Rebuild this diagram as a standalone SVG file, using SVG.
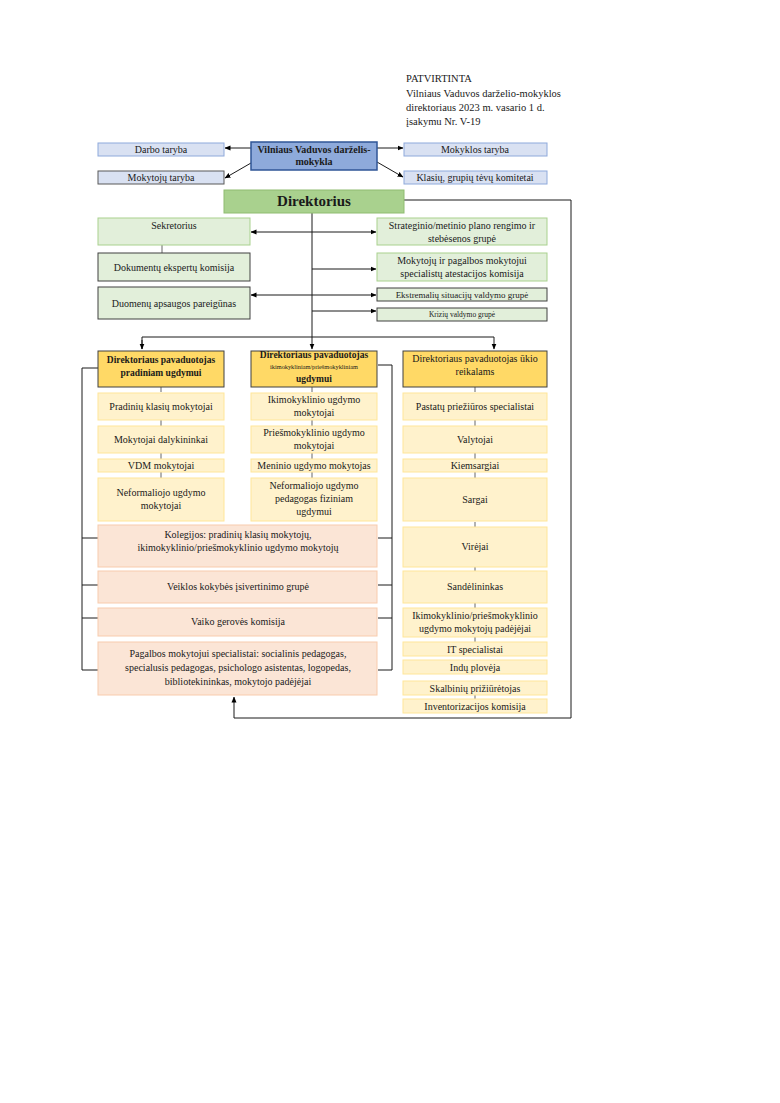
<svg xmlns="http://www.w3.org/2000/svg" width="780" height="1103" viewBox="0 0 780 1103">
<defs>
<marker id="ah" markerWidth="6" markerHeight="6" refX="5.5" refY="3" orient="auto" markerUnits="userSpaceOnUse"><path d="M0,0.5 L6,3 L0,5.5 z" fill="#000"/></marker>
<marker id="as" markerWidth="6" markerHeight="6" refX="0.5" refY="3" orient="auto" markerUnits="userSpaceOnUse"><path d="M6,0.5 L0,3 L6,5.5 z" fill="#000"/></marker>
<style>
text{font-family:"Liberation Serif","Times New Roman",serif;fill:#1a1a1a;font-size:10px;text-anchor:middle}
.hdr{text-anchor:start;font-size:10.5px}
.b{font-weight:bold}
.blue{fill:#d9e1f2;stroke:#8ea9db;stroke-width:1}
.blued{fill:#d9e1f2;stroke:#595959;stroke-width:1}
.main{fill:#8eaadb;stroke:#2f5597;stroke-width:1.5}
.dir{fill:#a9d18e;stroke:#8fbc70;stroke-width:1}
.gr{fill:#e2efda;stroke:#a9d18e;stroke-width:1}
.grd{fill:#e2efda;stroke:#404040;stroke-width:1}
.dep{fill:#ffd966;stroke:#404040;stroke-width:1}
.yl{fill:#fff2cc;stroke:#ffe699;stroke-width:1}
.pk{fill:#fbe5d6;stroke:#f8cbad;stroke-width:1}
.ln{fill:none;stroke:#1a1a1a;stroke-width:1}
.lnt{fill:none;stroke:#404040;stroke-width:0.8}
</style>
</defs>
<rect width="780" height="1103" fill="#fff"/>
<g id="header">
<text class="hdr" x="406" y="82">PATVIRTINTA</text>
<text class="hdr" x="406" y="97">Vilniaus Vaduvos darželio-mokyklos</text>
<text class="hdr" x="406" y="111">direktoriaus 2023 m. vasario 1 d.</text>
<text class="hdr" x="406" y="125">įsakymu Nr. V-19</text>
</g>
<g id="connectors">
<line class="ln" x1="251" y1="148" x2="225" y2="148" marker-end="url(#ah)"/>
<line class="ln" x1="251" y1="163" x2="225" y2="178" marker-end="url(#ah)"/>
<line class="ln" x1="377" y1="148" x2="403" y2="148" marker-end="url(#ah)"/>
<line class="ln" x1="377" y1="162" x2="403" y2="177" marker-end="url(#ah)"/>
<polyline class="ln" points="404,200 571,200 571,718 234,718 234,697" marker-end="url(#ah)"/>
<line class="ln" x1="312" y1="213" x2="312" y2="337"/>
<line class="ln" x1="251" y1="232" x2="376" y2="232" marker-start="url(#as)" marker-end="url(#ah)"/>
<line class="ln" x1="312" y1="269" x2="376" y2="269" marker-end="url(#ah)"/>
<line class="ln" x1="251" y1="295" x2="376" y2="295" marker-start="url(#as)" marker-end="url(#ah)"/>
<line class="ln" x1="312" y1="311" x2="376" y2="311" marker-end="url(#ah)"/>
<polyline class="ln" points="142,349 142,337 494,337 494,349" marker-end="url(#ah)"/>
<line class="ln" x1="142" y1="340" x2="142" y2="349" marker-end="url(#ah)"/>
<line class="ln" x1="312" y1="337" x2="312" y2="349" marker-end="url(#ah)"/>
<line class="lnt" x1="162" y1="245" x2="162" y2="253"/>
<polyline class="ln" points="98,368 82,368 82,670 98,670"/>
<line class="ln" x1="82" y1="538" x2="98" y2="538"/>
<line class="ln" x1="82" y1="585" x2="98" y2="585"/>
<line class="ln" x1="82" y1="618" x2="98" y2="618"/>
<polyline class="ln" points="378,365 392,365 392,670 378,670"/>
<line class="ln" x1="392" y1="538" x2="378" y2="538"/>
<line class="ln" x1="392" y1="585" x2="378" y2="585"/>
<line class="ln" x1="392" y1="618" x2="378" y2="618"/>
<g class="lnt">
<line x1="161" y1="387" x2="161" y2="392"/>
<line x1="161" y1="420" x2="161" y2="426"/>
<line x1="161" y1="453" x2="161" y2="459"/>
<line x1="161" y1="472" x2="161" y2="478"/>
<line x1="312" y1="387" x2="312" y2="392"/>
<line x1="312" y1="420" x2="312" y2="426"/>
<line x1="312" y1="453" x2="312" y2="459"/>
<line x1="312" y1="472" x2="312" y2="478"/>
<line x1="475" y1="387" x2="475" y2="392"/>
<line x1="475" y1="420" x2="475" y2="426"/>
<line x1="475" y1="453" x2="475" y2="459"/>
<line x1="475" y1="472" x2="475" y2="478"/>
<line x1="475" y1="522" x2="475" y2="527"/>
<line x1="475" y1="567" x2="475" y2="571"/>
<line x1="475" y1="603" x2="475" y2="608"/>
<line x1="475" y1="637" x2="475" y2="642"/>
<line x1="475" y1="690" x2="475" y2="699"/>
</g>
</g>
<g id="n-main"><rect class="main" x="251" y="142" width="126" height="28"/><text class="b" x="314" y="153">Vilniaus Vaduvos darželis-</text><text class="b" x="314" y="165">mokykla</text></g>
<g id="n-darbo"><rect class="blue" x="98" y="143" width="126" height="13"/><text x="161" y="153">Darbo taryba</text></g>
<g id="n-mokytoju-taryba"><rect class="blued" x="98" y="171" width="126" height="13"/><text x="161" y="181">Mokytojų taryba</text></g>
<g id="n-mokyklos"><rect class="blue" x="404" y="143" width="143" height="13"/><text x="475" y="153">Mokyklos taryba</text></g>
<g id="n-klasiu"><rect class="blue" x="404" y="171" width="143" height="13"/><text x="475" y="181">Klasių, grupių tėvų komitetai</text></g>
<g id="n-direktorius"><rect class="dir" x="224" y="190" width="180" height="23"/><text class="b" x="314" y="206" style="font-size:15px">Direktorius</text></g>
<g id="n-sekretorius"><rect class="gr" x="98" y="218" width="152" height="27"/><text x="174" y="229">Sekretorius</text></g>
<g id="n-dokumentu"><rect class="grd" x="98" y="253" width="152" height="28"/><text x="174" y="271">Dokumentų ekspertų komisija</text></g>
<g id="n-duomenu"><rect class="grd" x="98" y="287" width="152" height="32"/><text x="174" y="307">Duomenų apsaugos pareigūnas</text></g>
<g id="n-strateginio"><rect class="gr" x="377" y="218" width="170" height="27"/><text x="462" y="229">Strateginio/metinio plano rengimo ir</text><text x="462" y="242">stebėsenos grupė</text></g>
<g id="n-atestacijos"><rect class="gr" x="377" y="253" width="170" height="28"/><text x="462" y="264">Mokytojų ir pagalbos mokytojui</text><text x="462" y="277">specialistų atestacijos komisija</text></g>
<g id="n-ekstremaliu"><rect class="grd" x="377" y="288" width="170" height="13"/><text x="462" y="298" style="font-size:9px">Ekstremalių situacijų valdymo grupė</text></g>
<g id="n-kriziu"><rect class="grd" x="377" y="308" width="170" height="13"/><text x="462" y="317" style="font-size:7.5px">Krizių valdymo grupė</text></g>
<g id="n-dep-prad"><rect class="dep" x="98" y="351" width="126" height="36"/><text class="b" x="161" y="363" style="font-size:9.5px">Direktoriaus pavaduotojas</text><text class="b" x="161" y="376" style="font-size:9.5px">pradiniam ugdymui</text></g>
<g id="n-dep-ikim"><rect class="dep" x="251" y="351" width="126" height="36"/><text class="b" x="314" y="358" style="font-size:9.5px">Direktoriaus pavaduotojas</text><text x="314" y="369" style="font-size:6.3px">ikimokykliniam/priešmokykliniam</text><text class="b" x="314" y="382" style="font-size:9.5px">ugdymui</text></g>
<g id="n-dep-ukio"><rect class="dep" x="403" y="351" width="144" height="36"/><text x="475" y="362">Direktoriaus pavaduotojas ūkio</text><text x="475" y="375">reikalams</text></g>
<g id="n-pradiniu"><rect class="yl" x="98" y="393" width="126" height="27"/><text x="161" y="410">Pradinių klasių mokytojai</text></g>
<g id="n-dalykininkai"><rect class="yl" x="98" y="426" width="126" height="27"/><text x="161" y="443">Mokytojai dalykininkai</text></g>
<g id="n-vdm"><rect class="yl" x="98" y="459" width="126" height="13"/><text x="161" y="469">VDM mokytojai</text></g>
<g id="n-neform1"><rect class="yl" x="98" y="478" width="126" height="43"/><text x="161" y="496">Neformaliojo ugdymo</text><text x="161" y="509">mokytojai</text></g>
<g id="n-ikim"><rect class="yl" x="251" y="393" width="126" height="27"/><text x="314" y="403">Ikimokyklinio ugdymo</text><text x="314" y="416">mokytojai</text></g>
<g id="n-priesm"><rect class="yl" x="251" y="426" width="126" height="27"/><text x="314" y="436">Priešmokyklinio ugdymo</text><text x="314" y="449">mokytojai</text></g>
<g id="n-meninio"><rect class="yl" x="251" y="459" width="126" height="13"/><text x="314" y="469">Meninio ugdymo mokytojas</text></g>
<g id="n-neform2"><rect class="yl" x="251" y="478" width="126" height="43"/><text x="314" y="489">Neformaliojo ugdymo</text><text x="314" y="502">pedagogas fiziniam</text><text x="314" y="515">ugdymui</text></g>
<g id="n-pastatu"><rect class="yl" x="403" y="393" width="144" height="27"/><text x="475" y="410">Pastatų priežiūros specialistai</text></g>
<g id="n-valytojai"><rect class="yl" x="403" y="426" width="144" height="27"/><text x="475" y="443">Valytojai</text></g>
<g id="n-kiemsargiai"><rect class="yl" x="403" y="459" width="144" height="13"/><text x="475" y="469">Kiemsargiai</text></g>
<g id="n-sargai"><rect class="yl" x="403" y="478" width="144" height="43"/><text x="475" y="503">Sargai</text></g>
<g id="n-virejai"><rect class="yl" x="403" y="527" width="144" height="40"/><text x="475" y="550">Virėjai</text></g>
<g id="n-sandelininkas"><rect class="yl" x="403" y="571" width="144" height="32"/><text x="475" y="590">Sandėlininkas</text></g>
<g id="n-padejejai"><rect class="yl" x="403" y="608" width="144" height="29"/><text x="475" y="619">Ikimokyklinio/priešmokyklinio</text><text x="475" y="632">ugdymo mokytojų padėjėjai</text></g>
<g id="n-it"><rect class="yl" x="403" y="642" width="144" height="14"/><text x="475" y="653">IT specialistai</text></g>
<g id="n-indu"><rect class="yl" x="403" y="660" width="144" height="14"/><text x="475" y="671">Indų plovėja</text></g>
<g id="n-skalbiniu"><rect class="yl" x="403" y="681" width="144" height="14"/><text x="475" y="692">Skalbinių prižiūrėtojas</text></g>
<g id="n-inventorizacijos"><rect class="yl" x="403" y="699" width="144" height="14"/><text x="475" y="710">Inventorizacijos komisija</text></g>
<g id="n-kolegijos"><rect class="pk" x="98" y="525" width="279" height="42"/><text x="238" y="538">Kolegijos: pradinių klasių mokytojų,</text><text x="238" y="551">ikimokyklinio/priešmokyklinio ugdymo mokytojų</text></g>
<g id="n-veiklos"><rect class="pk" x="98" y="571" width="279" height="32"/><text x="238" y="590">Veiklos kokybės įsivertinimo grupė</text></g>
<g id="n-vaiko"><rect class="pk" x="98" y="608" width="279" height="28"/><text x="238" y="625">Vaiko gerovės komisija</text></g>
<g id="n-pagalbos"><rect class="pk" x="98" y="642" width="279" height="53"/><text x="238" y="657">Pagalbos mokytojui specialistai: socialinis pedagogas,</text><text x="238" y="671">specialusis pedagogas, psichologo asistentas, logopedas,</text><text x="238" y="685">bibliotekininkas, mokytojo padėjėjai</text></g>
</svg>
